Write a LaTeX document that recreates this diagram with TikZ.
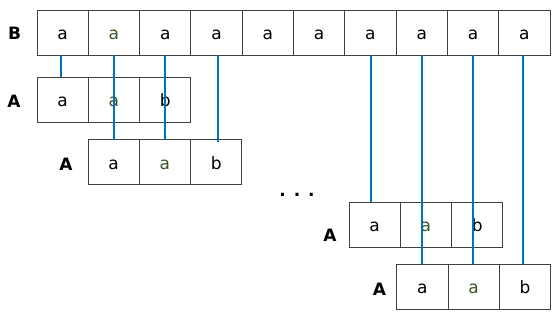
\documentclass[tikz,border=0pt]{standalone}
\usepackage{fontspec}
\setmainfont{DejaVu Sans}
\definecolor{cellgray}{RGB}{64,64,64}
\definecolor{linkblue}{RGB}{0,112,192}
\definecolor{agreen}{RGB}{55,86,35}
\begin{document}
\begin{tikzpicture}[x=1pt,y=-1pt,
  cell/.style={draw=cellgray, line width=0.9pt, minimum width=51.3pt, minimum height=45pt,
    inner sep=0pt, outer sep=0pt, text height=14pt, text depth=0pt,
    font=\fontsize{17}{19}\selectfont, anchor=north west},
  gcell/.style={cell, text=agreen},
  lbl/.style={font=\bfseries\fontsize{17}{19}\selectfont, inner sep=0pt},
  link/.style={draw=linkblue, line width=1.7pt}]
\useasboundingbox (0,0) rectangle (559,317);
% row B
\node[cell] (B1) at (37,10) {a};
\node[gcell] (B2) at (88.3,10) {a};
\foreach \i in {3,...,10}
  \node[cell] (B\i) at ({37+(\i-1)*51.3},10) {a};
% row A1
\node[cell]  (P1a) at (37,77.3) {a};
\node[gcell] (P1b) at (88.3,77.3) {a};
\node[cell]  (P1c) at (139.6,77.3) {b};
% row A2
\node[cell]  (P2a) at (88,139.5) {a};
\node[gcell] (P2b) at (139.3,139.5) {a};
\node[cell]  (P2c) at (190.6,139.5) {b};
% row A3
\node[cell]  (P3a) at (349,202) {a};
\node[gcell] (P3b) at (400.3,202) {a};
\node[cell]  (P3c) at (451.6,202) {b};
% row A4
\node[cell]  (P4a) at (396.7,264) {a};
\node[gcell] (P4b) at (448,264) {a};
\node[cell]  (P4c) at (499.3,264) {b};
% labels
\node[lbl] (LB) at (14.5,33) {B};
\node[lbl] (L1) at (14,101) {A};
\node[lbl] (L2) at (66,164) {A};
\node[lbl] (L3) at (330,235.5) {A};
\node[lbl] (L4) at (379.5,289.5) {A};
\node[font=\bfseries\fontsize{17}{19}\selectfont, inner sep=0pt] (dots) at (297,195) {. . .};
% links
\draw[link] ([xshift=-2pt]B1.south) -- ([xshift=-2pt]B1.south |- P1a.north);
\draw[link] (B2.south) -- (B2.south |- P2a.north);
\draw[link] (B3.south) -- (B3.south |- P2b.north);
\draw[link] ([xshift=1.5pt]B4.south) -- ([xshift=1.5pt,yshift=-2pt]B4.south |- P2c.north);
\draw[link] ([xshift=0.5pt]B7.south) -- ([xshift=0.5pt]B7.south |- P3a.north);
\draw[link] (B8.south) -- (B8.south |- P4a.north);
\draw[link] (B9.south) -- (B9.south |- P4b.north);
\draw[link] ([xshift=-1.5pt]B10.south) -- ([xshift=-1.5pt]B10.south |- P4c.north);
\end{tikzpicture}
\end{document}
